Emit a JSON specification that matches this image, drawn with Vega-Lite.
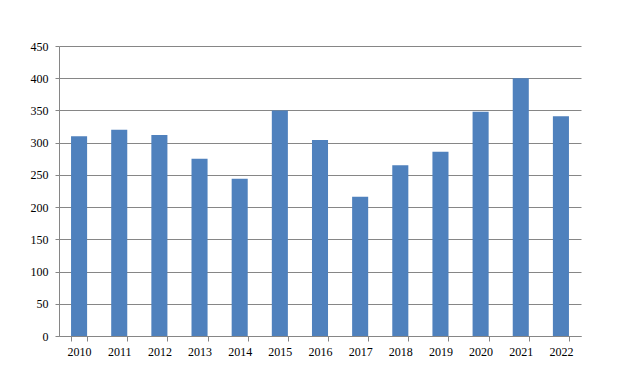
{
  "$schema": "https://vega.github.io/schema/vega-lite/v6.json",
  "width": 522,
  "height": 290,
  "autosize": {"type": "none"},
  "padding": {"left": 59, "top": 46, "right": 39, "bottom": 48},
  "background": "white",
  "data": {
    "values": [
      {"year": "2010", "value": 310},
      {"year": "2011", "value": 320},
      {"year": "2012", "value": 312},
      {"year": "2013", "value": 275},
      {"year": "2014", "value": 244},
      {"year": "2015", "value": 350},
      {"year": "2016", "value": 304},
      {"year": "2017", "value": 216},
      {"year": "2018", "value": 265},
      {"year": "2019", "value": 286},
      {"year": "2020", "value": 348},
      {"year": "2021", "value": 400},
      {"year": "2022", "value": 341}
    ]
  },
  "mark": {"type": "bar", "color": "#4f81bd"},
  "encoding": {
    "x": {
      "field": "year",
      "type": "nominal",
      "sort": null,
      "title": null,
      "scale": {"paddingInner": 0.6, "paddingOuter": 0.3},
      "axis": {
        "labelAngle": 0,
        "tickBand": "extent",
        "tickSize": 5,
        "tickColor": "#868686",
        "domainColor": "#868686",
        "labelPadding": 5,
        "grid": false
      }
    },
    "y": {
      "field": "value",
      "type": "quantitative",
      "title": null,
      "scale": {"domain": [0, 450], "nice": false},
      "axis": {
        "values": [0, 50, 100, 150, 200, 250, 300, 350, 400, 450],
        "tickSize": 4,
        "tickColor": "#868686",
        "domainColor": "#868686",
        "gridColor": "#868686",
        "gridOpacity": 1,
        "labelPadding": 7
      }
    }
  },
  "config": {
    "view": {"stroke": null},
    "axis": {
      "labelFont": "Liberation Serif",
      "labelFontSize": 12,
      "labelColor": "#000000",
      "domainWidth": 1,
      "tickWidth": 1,
      "gridWidth": 1
    }
  }
}
